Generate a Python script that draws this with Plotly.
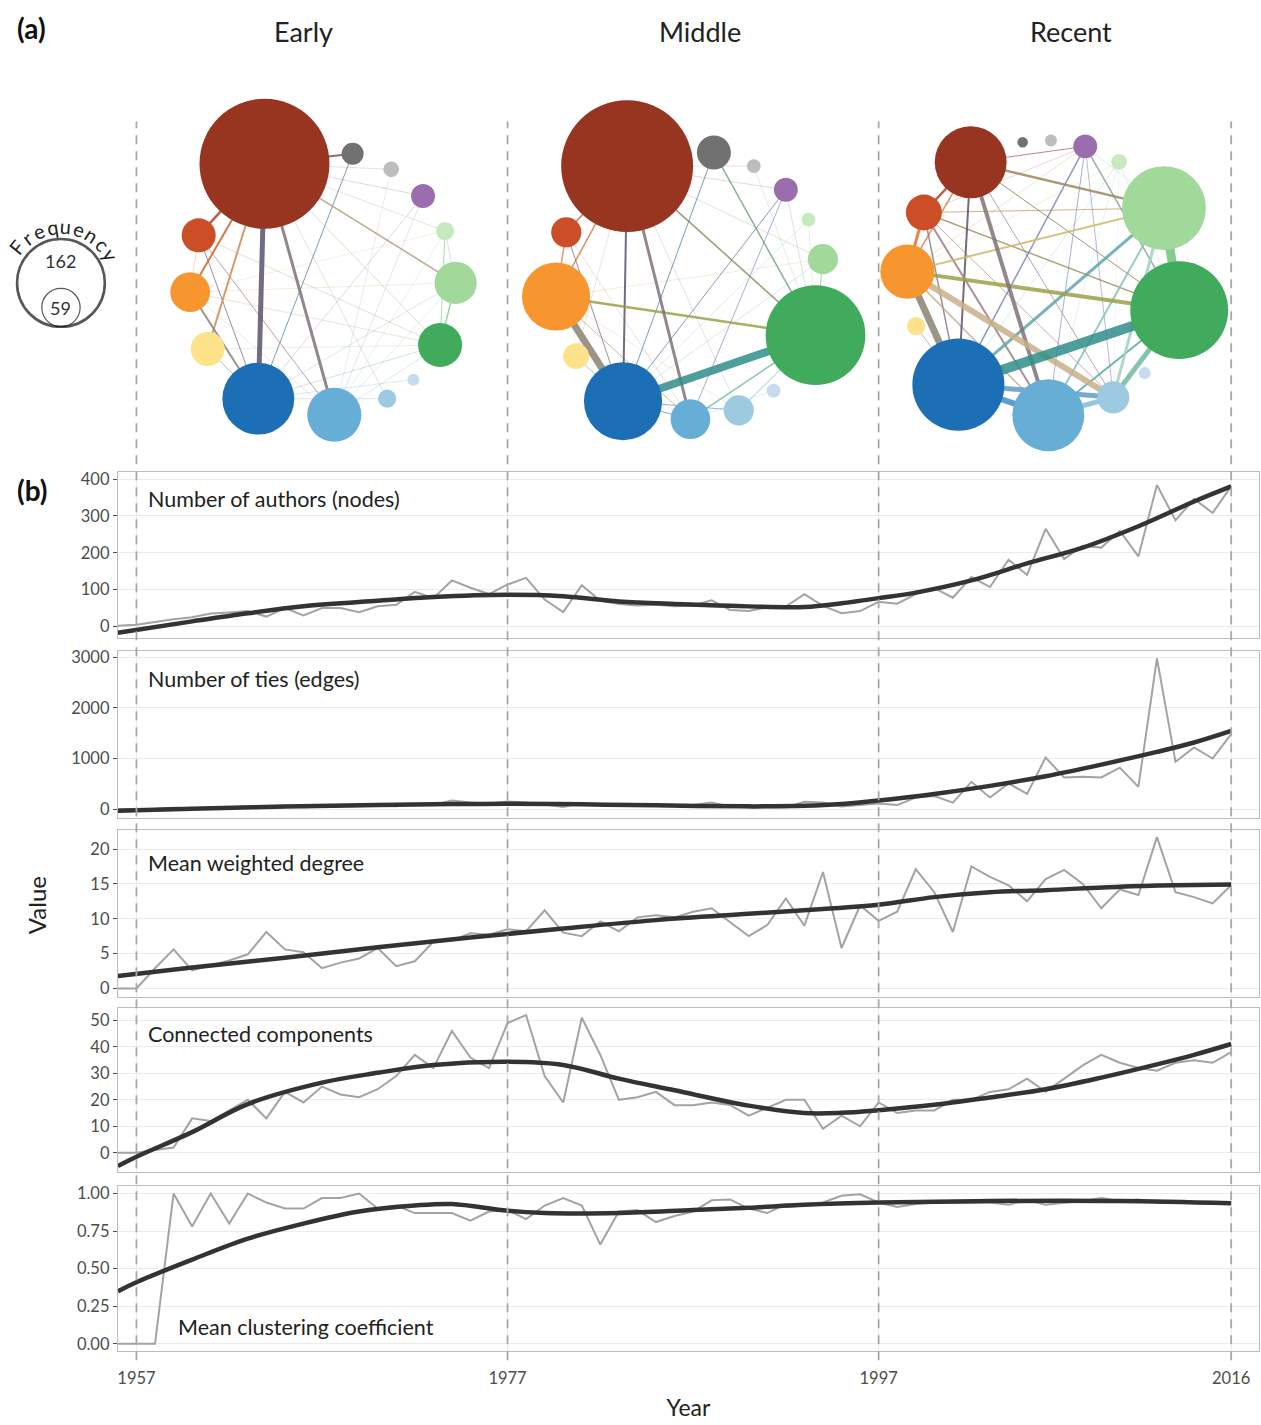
import math
import plotly.graph_objects as go

W, H = 1261, 1425
FONT = "Lato"

# ---------------- Panel (b) data ----------------
years = list(range(1956, 2017))

authors = [2, 5, 12, 20, 25, 35, 38, 42, 27, 50, 30, 50, 50, 39, 55, 59, 94, 77, 125, 105,
           88, 114, 132, 73, 39, 112, 70, 61, 57, 59, 55, 57, 71, 45, 42, 52, 54, 88, 56, 36,
           42, 67, 62, 88, 104, 78, 134, 107, 181, 140, 265, 183, 219, 214, 259, 190, 384, 288, 346, 308,
           380]
ties = [0, 0, 10, 30, 20, 25, 40, 50, 45, 70, 40, 45, 55, 50, 65, 55, 95, 85, 170, 130,
        110, 150, 130, 90, 45, 120, 80, 70, 80, 70, 70, 80, 130, 50, 35, 35, 40, 145, 130, 55,
        80, 110, 80, 230, 260, 130, 540, 230, 510, 300, 1020, 625, 640, 625, 820, 440, 2975, 935, 1220, 1000,
        1480]
degree = [0, 0, 2.9, 5.6, 2.6, 3.3, 4.0, 4.9, 8.1, 5.6, 5.2, 2.9, 3.7, 4.3, 5.8, 3.2, 3.9, 6.7, 6.9, 7.9,
          7.7, 8.5, 8.2, 11.2, 8.0, 7.5, 9.6, 8.2, 10.2, 10.5, 10.2, 11.0, 11.5, 9.5, 7.5, 9.1, 12.9, 9.0, 16.7, 5.8,
          11.9, 9.7, 11.0, 17.1, 13.8, 8.1, 17.5, 16.0, 14.8, 12.5, 15.7, 17.0, 15.0, 11.5, 14.2, 13.4, 21.7, 13.8, 13.1, 12.2,
          14.8]
components = [0, 0, 1, 2, 13, 12, 16, 20, 13, 23, 19, 25, 22, 21, 24, 29, 37, 32, 46, 36,
              32, 49, 52, 29, 19, 51, 37, 20, 21, 23, 18, 18, 19, 18, 14, 17, 20, 20, 9, 14,
              10, 19, 15, 16, 16, 20, 20, 23, 24, 28, 23, 28, 33, 37, 34, 32, 31, 34, 35, 34,
              38]
clustering = [0, 0, 0, 1.0, 0.78, 1.0, 0.80, 1.0, 0.94, 0.90, 0.90, 0.97, 0.97, 1.0, 0.90, 0.92, 0.87, 0.87, 0.87, 0.82,
              0.88, 0.89, 0.83, 0.92, 0.97, 0.92, 0.66, 0.88, 0.89, 0.81, 0.85, 0.88, 0.955, 0.96, 0.90, 0.87, 0.93, 0.93, 0.94, 0.985,
              0.995, 0.94, 0.91, 0.93, 0.94, 0.94, 0.94, 0.94, 0.925, 0.955, 0.925, 0.94, 0.95, 0.97, 0.95, 0.96, 0.94, 0.94, 0.935, 0.935,
              0.93]

# smoothed trend
authors_sm_x = [1956, 1960, 1963, 1966, 1970, 1973, 1977, 1980, 1983, 1986, 1989, 1993, 1995, 1997, 1999, 2002, 2005, 2008, 2011, 2014, 2016]
authors_sm_y = [-17, 14, 36, 55, 70, 80, 86, 82, 68, 61, 56, 53, 63, 77, 92, 125, 171, 214, 272, 339, 380]
ties_sm_x = [1956, 1960, 1965, 1970, 1974, 1977, 1981, 1985, 1990, 1993, 1995, 1997, 2000, 2003, 2006, 2009, 2012, 2014, 2016]
ties_sm_y = [-30, 10, 50, 80, 100, 105, 95, 75, 55, 65, 100, 170, 300, 460, 650, 880, 1130, 1316, 1545]
degree_sm_x = [1956, 1960, 1965, 1970, 1975, 1980, 1985, 1990, 1994, 1997, 2000, 2003, 2006, 2010, 2013, 2016]
degree_sm_y = [1.8, 3.0, 4.4, 5.9, 7.3, 8.6, 9.8, 10.7, 11.4, 12.0, 13.1, 13.8, 14.1, 14.6, 14.8, 14.9]
comp_sm_x = [1956, 1957, 1960, 1963, 1967, 1970, 1973, 1977, 1980, 1983, 1986, 1990, 1993, 1995, 1997, 2000, 2003, 2006, 2009, 2012, 2014, 2016]
comp_sm_y = [-5, -1.5, 7.8, 18.4, 26.5, 30.2, 33.2, 34.4, 33.2, 28, 23.6, 17.8, 15, 15.1, 16.1, 18.1, 20.9, 24, 28.4, 33.4, 37, 41.1]
clus_sm_x = [1956, 1957, 1960, 1963, 1966, 1969, 1972, 1974, 1977, 1979, 1983, 1987, 1990, 1993, 1997, 2003, 2010, 2016]
clus_sm_y = [0.35, 0.41, 0.56, 0.70, 0.80, 0.88, 0.92, 0.93, 0.885, 0.87, 0.87, 0.89, 0.905, 0.925, 0.94, 0.95, 0.95, 0.935]

panel_labels = ["Number of authors (nodes)", "Number of ties (edges)", "Mean weighted degree",
                "Connected components", "Mean clustering coefficient"]
yticks = [[0, 100, 200, 300, 400],
          [0, 1000, 2000, 3000],
          [0, 5, 10, 15, 20],
          [0, 10, 20, 30, 40, 50],
          [0, 0.25, 0.5, 0.75, 1.0]]
ytick_text = [["0", "100", "200", "300", "400"],
              ["0", "1000", "2000", "3000"],
              ["0", "5", "10", "15", "20"],
              ["0", "10", "20", "30", "40", "50"],
              ["0.00", "0.25", "0.50", "0.75", "1.00"]]
year_ticks = [1957, 1977, 1997, 2016]
period_titles = ["Early", "Middle", "Recent"]

# ---------------- Panel (a) data ----------------
node_colors = ["#983520", "#717171", "#BDBDBD", "#9A6DAE", "#C7E9C0", "#A1D99B", "#41AB5D",
               "#C6DBEF", "#9ECAE1", "#67AED6", "#1D6FB5", "#FDE28A", "#F7952F", "#CB4E27"]
# node angular positions on the circular layout (degrees)
angles_early = [116, 77, 59, 41, 23, 0, -28, -47, -61, -85, -119, -150, -176, 159]
angles_middle = [118, 80, 62, 45, 29, 11, -22, -52, -69, -90, -120, -148, -175, 157]
angles_recent = [122.7, 99.4, 87.6, 73.1, 57.6, 30.5, -13.6, -43.8, -60.4, -88.7, -129, -159.4, 177.4, 151.6]
# node frequencies
freq_early = [250, 25, 12, 29, 17, 67, 71, 4, 17, 92, 129, 50, 62, 50]
freq_middle = [254, 50, 8, 29, 8, 42, 187, 8, 42, 62, 142, 33, 121, 42]
freq_recent = [129, 1, 4, 29, 12, 154, 183, 4, 46, 129, 171, 17, 92, 54]
# ties (node i, node j, weight)
edges_early = [(0, 10, 5), (0, 9, 3), (0, 13, 2.5), (0, 12, 2), (0, 11, 2), (0, 1, 2), (0, 5, 1.5),
               (0, 2, 0.6), (0, 3, 0.6), (0, 4, 0.6), (0, 6, 0.4), (1, 10, 1), (12, 10, 2), (13, 10, 1),
               (13, 9, 1), (12, 9, 0.6), (4, 5, 1), (5, 6, 1.5), (4, 6, 1), (10, 5, 0.8), (10, 6, 0.8),
               (9, 6, 0.8), (9, 4, 0.8), (3, 10, 0.6), (12, 6, 0.4), (12, 5, 0.5), (8, 0, 0.4), (11, 10, 1),
               (13, 12, 0.6), (9, 5, 0.6), (3, 9, 0.4), (7, 10, 0.4), (10, 8, 0.6), (13, 6, 0.4),
               (11, 6, 0.4), (2, 9, 0.4), (12, 4, 0.3)]
edges_middle = [(0, 10, 2), (0, 9, 3), (0, 12, 1.5), (0, 13, 1.5), (0, 6, 1.5), (1, 6, 1.5), (12, 6, 2.5),
                (12, 10, 7), (10, 6, 8), (3, 10, 1), (3, 9, 1), (1, 10, 1), (9, 6, 1.5), (8, 6, 1),
                (9, 10, 1), (8, 10, 1), (13, 10, 1), (11, 10, 1), (0, 11, 0.8), (13, 12, 1.5), (5, 10, 0.8),
                (4, 10, 0.5), (5, 6, 1), (0, 5, 0.6), (0, 3, 0.5), (0, 2, 0.5), (12, 9, 1), (13, 9, 0.6),
                (7, 9, 0.6), (2, 6, 0.5), (4, 6, 0.6), (12, 5, 0.5), (0, 8, 0.5), (3, 6, 0.6), (11, 9, 0.6),
                (12, 8, 0.6)]
edges_recent = [(10, 6, 10), (12, 10, 7), (12, 8, 6), (12, 6, 4), (5, 6, 9), (10, 9, 6), (10, 8, 5),
                (9, 8, 5), (6, 8, 5), (5, 8, 3), (5, 10, 3), (0, 9, 4), (0, 10, 2), (0, 5, 2.5), (13, 9, 2),
                (13, 10, 1.5), (13, 12, 3), (0, 13, 2.5), (0, 12, 1.5), (13, 6, 1.5), (12, 5, 2), (3, 10, 1.5),
                (3, 9, 1), (3, 8, 1), (3, 0, 1), (3, 6, 1.5), (3, 13, 0.8), (4, 9, 0.8), (4, 10, 0.8),
                (4, 12, 0.6), (5, 9, 2), (6, 9, 2), (11, 10, 1), (0, 8, 1), (3, 5, 0.8), (4, 6, 0.8),
                (13, 5, 1), (12, 9, 1.5), (3, 12, 0.8), (4, 8, 0.8), (13, 8, 1), (0, 6, 1), (11, 9, 0.6)]
legend_freqs = [162, 59]

# ---------------- layout helpers ----------------
def py(p):
    return 1 - p / H

def node_size(f):
    return 10 + 0.48 * f

def hex2rgb(c):
    return [int(c[i:i + 2], 16) for i in (1, 3, 5)]

def mix(c1, c2, alpha):
    a, b = hex2rgb(c1), hex2rgb(c2)
    m = [int((a[k] + b[k]) / 2) for k in range(3)]
    return f"rgba({m[0]},{m[1]},{m[2]},{alpha})"

fig = go.Figure()

# panel geometry (pixels)
panel_px = [(470, 637), (650, 817), (829, 997), (1008, 1173), (1187, 1353)]
yranges = [[-32, 419], [-166, 3118], [-1.2, 22.8], [-7.3, 54.8], [-0.05, 1.05]]
label_pos = [(0.0245, 0.838), (0.0245, 0.832), (0.0245, 0.80), (0.0245, 0.84), (0.051, 0.15)]
raw_series = [authors, ties, degree, components, clustering]
smooth_series = [(authors_sm_x, authors_sm_y), (ties_sm_x, ties_sm_y), (degree_sm_x, degree_sm_y),
                 (comp_sm_x, comp_sm_y), (clus_sm_x, clus_sm_y)]
xdom = [117 / W, 1259 / W]

layout_axes = {}
for i in range(5):
    k = "" if i == 0 else str(i + 1)
    top, bot = panel_px[i]
    fig.add_trace(go.Scatter(x=years, y=raw_series[i], mode="lines",
                             line=dict(color="#A3A3A3", width=2), xaxis="x" + k, yaxis="y" + k,
                             showlegend=False, hoverinfo="skip"))
    sx, sy = smooth_series[i]
    fig.add_trace(go.Scatter(x=sx, y=sy, mode="lines",
                             line=dict(color="#333333", width=4.5, shape="spline", smoothing=1.0),
                             xaxis="x" + k, yaxis="y" + k, showlegend=False, hoverinfo="skip"))
    layout_axes["xaxis" + k] = dict(
        domain=xdom, range=[1956, 2017.5], anchor="y" + k,
        tickvals=year_ticks, ticktext=[str(t) for t in year_ticks],
        showticklabels=(i == 4), ticks="outside" if i == 4 else "", ticklen=5, tickcolor="#4D4D4D",
        ticklabelstandoff=7,
        tickfont=dict(family=FONT, size=16.5, color="#4D4D4D"),
        showgrid=True, gridcolor="#EBEBEB", gridwidth=1, zeroline=False,
        showline=True, mirror=True, linecolor="#BDBDBD", linewidth=1.2,
        title=dict(text="Year", font=dict(family=FONT, size=23, color="#222"), standoff=12) if i == 4 else None,
    )
    layout_axes["yaxis" + k] = dict(
        domain=[py(bot), py(top)], range=yranges[i], anchor="x" + k,
        tickvals=yticks[i], ticktext=ytick_text[i],
        ticks="outside", ticklen=4, tickcolor="#4D4D4D",
        tickfont=dict(family=FONT, size=16.5, color="#4D4D4D"),
        showgrid=True, gridcolor="#EBEBEB", gridwidth=1, zeroline=False,
        showline=True, mirror=True, linecolor="#BDBDBD", linewidth=1.2,
    )

# ---------------- networks ----------------
net_centers = [(322, 280), (690, 282), (1045, 275)]
net_radius = [133, 135, 138]
nets = [(angles_early, freq_early, edges_early),
        (angles_middle, freq_middle, edges_middle),
        (angles_recent, freq_recent, edges_recent)]

for n, (angs, freqs, edges) in enumerate(nets):
    cx, cy = net_centers[n]
    R = net_radius[n]
    xs = [cx + R * math.cos(math.radians(a)) for a in angs]
    ys = [cy - R * math.sin(math.radians(a)) for a in angs]
    for (a, b, w) in sorted(edges, key=lambda e: e[2]):
        alpha = 0.3 if w < 1 else (0.7 if w < 2 else 0.85)
        fig.add_trace(go.Scatter(x=[xs[a], xs[b]], y=[ys[a], ys[b]], mode="lines",
                                 line=dict(color=mix(node_colors[a], node_colors[b], alpha), width=max(w, 0.8)),
                                 xaxis="x6", yaxis="y6", showlegend=False, hoverinfo="skip"))
    order = sorted(range(len(freqs)), key=lambda j: freqs[j])
    fig.add_trace(go.Scatter(x=[xs[j] for j in order], y=[ys[j] for j in order], mode="markers",
                             marker=dict(size=[node_size(freqs[j]) for j in order],
                                         color=[node_colors[j] for j in order], opacity=1,
                                         line=dict(width=0)),
                             xaxis="x6", yaxis="y6", showlegend=False, hoverinfo="skip"))

# frequency legend (nested circles sharing a bottom point)
leg_cx, leg_bottom = 60, 324
leg_sizes = [node_size(f) for f in legend_freqs]
fig.add_trace(go.Scatter(x=[leg_cx, leg_cx], y=[leg_bottom - s / 2 for s in leg_sizes], mode="markers",
                         marker=dict(size=leg_sizes, color="rgba(0,0,0,0)",
                                     line=dict(color="#111111", width=[2.6, 1.2])),
                         xaxis="x6", yaxis="y6", showlegend=False, hoverinfo="skip"))

layout_axes["xaxis6"] = dict(domain=[0, 1], range=[0, W], visible=False, anchor="y6")
layout_axes["yaxis6"] = dict(domain=[py(460), 1], range=[460, 0], visible=False, anchor="x6")

annotations = []
for i in range(5):
    k = "" if i == 0 else str(i + 1)
    lx, ly = label_pos[i]
    annotations.append(dict(text=panel_labels[i], xref=("x" + k + " domain"), yref=("y" + k + " domain"),
                            x=lx, y=ly, xanchor="left", yanchor="middle", showarrow=False,
                            font=dict(family=FONT, size=21.5, color="#222")))
annotations.append(dict(text="Value", xref="paper", yref="paper", x=35 / W, y=py(905), textangle=-90,
                        xanchor="center", yanchor="middle",
                        showarrow=False, font=dict(family=FONT, size=24, color="#222")))
title_x = [303, 700, 1071]
for t, x in zip(period_titles, title_x):
    annotations.append(dict(text=t, xref="paper", yref="paper", x=x / W, y=py(28),
                            xanchor="center", yanchor="middle",
                            showarrow=False, font=dict(family=FONT, size=27, color="#222")))
annotations.append(dict(text="<b>(a)</b>", xref="paper", yref="paper", x=31 / W, y=py(24),
                        xanchor="center", yanchor="middle",
                        showarrow=False, font=dict(family=FONT, size=28, color="#111")))
annotations.append(dict(text="<b>(b)</b>", xref="paper", yref="paper", x=31 / W, y=py(488),
                        xanchor="center", yanchor="middle",
                        showarrow=False, font=dict(family=FONT, size=28, color="#111")))
# legend numbers
for f, s in zip(legend_freqs, leg_sizes):
    yc = leg_bottom - s / 2 if f == legend_freqs[1] else leg_bottom - s * 0.75
    annotations.append(dict(text=str(f), x=leg_cx, y=yc, xref="x6", yref="y6", showarrow=False,
                            xanchor="center", yanchor="middle",
                            font=dict(family=FONT, size=18, color="#333")))
# curved "Frequency" label
word = "Frequency"
lr = 57
for j, ch in enumerate(word):
    a = 141 - 14 * j
    annotations.append(dict(text=ch, x=leg_cx + lr * math.cos(math.radians(a)),
                            y=(leg_bottom - leg_sizes[0] / 2) - lr * math.sin(math.radians(a)),
                            xref="x6", yref="y6", showarrow=False, textangle=90 - a,
                            xanchor="center", yanchor="middle",
                            font=dict(family=FONT, size=20, color="#222")))

shapes = []
for t in year_ticks:
    shapes.append(dict(type="line", xref="x", yref="paper", x0=t, x1=t, y0=py(1362), y1=py(118),
                       line=dict(color="#A8A8A8", width=1.8, dash="9px,7px")))

fig.update_layout(width=W, height=H, margin=dict(l=0, r=0, t=0, b=0),
                  paper_bgcolor="white", plot_bgcolor="white",
                  font=dict(family=FONT), annotations=annotations, shapes=shapes,
                  **layout_axes)

fig.write_html("out.html", config={"displayModeBar": False},
               post_script="document.body.style.margin='0';document.body.style.overflow='hidden';")
